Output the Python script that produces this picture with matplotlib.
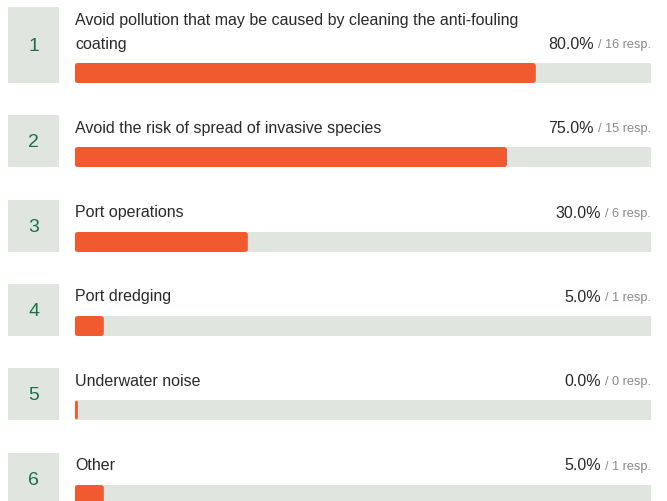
import matplotlib
matplotlib.use("Agg")
import matplotlib.pyplot as plt
from matplotlib.patches import FancyBboxPatch, Rectangle

labels = ["Avoid pollution that may be caused by cleaning the anti-fouling\ncoating",
          "Avoid the risk of spread of invasive species",
          "Port operations",
          "Port dredging",
          "Underwater noise",
          "Other"]
ranks = ["1", "2", "3", "4", "5", "6"]
responses = [16, 15, 6, 1, 0, 1]
total = 20
percents = [100.0 * r / total for r in responses]

plt.rcParams['font.family'] = ['Liberation Sans', 'DejaVu Sans']

W, H = 667, 501
fig = plt.figure(figsize=(W / 100, H / 100), dpi=100)
x0, x1 = 75, 651
ax = fig.add_axes([x0 / W, 0, (x1 - x0) / W, 1])
ax.set_xlim(0, 100)
ax.set_ylim(H, 0)
ax.axis('off')

def px2x(p):
    return (p - x0) / (x1 - x0) * 100

track_tops = [63, 147, 232, 316, 400, 485]
track_h = 20
orange = '#f05a2e'
track_c = '#e0e5df'
box_c = '#e0e5df'
green = '#1c7245'
txt_c = '#2a2a2a'
gap = 4 / (x1 - x0) * 100

for i, (lab, rk, n, pct) in enumerate(zip(labels, ranks, responses, percents)):
    tt = track_tops[i]
    nlines = lab.count("\n") + 1
    # track
    ax.add_patch(Rectangle((0, tt), 100, track_h, facecolor=track_c, edgecolor='none'))
    # bar
    w = max(pct, 0.5)
    ax.add_patch(FancyBboxPatch((0, tt), w, track_h,
                                boxstyle="round,pad=0,rounding_size=0.6",
                                mutation_aspect=track_h / 4.5,
                                facecolor=orange, edgecolor='none'))
    # rank box
    box_top = tt - 32 - 24 * (nlines - 1)
    bx0 = px2x(8)
    bx1 = px2x(59)
    ax.add_patch(Rectangle((bx0, box_top), bx1 - bx0, tt + track_h - box_top,
                           facecolor=box_c, edgecolor='none', clip_on=False))
    ax.text((bx0 + bx1) / 2, (box_top + tt + track_h) / 2 + 1.5, rk, ha='center', va='center',
            fontsize=14, color=green, clip_on=False)
    # label
    lines = lab.split("\n")
    for j, line in enumerate(lines):
        yc = tt - 19 - 24 * (nlines - 1 - j)
        ax.text(0, yc, line, ha='left', va='center', fontsize=11.5, color=txt_c)
    # percent
    yc = tt - 19
    t2 = ax.text(100, yc + 1, f"/ {n} resp.", ha='right', va='center', fontsize=9.2, color='#8a8a8a')
    fig.canvas.draw()
    bb = t2.get_window_extent()
    xr = ax.transData.inverted().transform((bb.x0, 0))[0]
    ax.text(xr - gap, yc, f"{pct:.1f}%", ha='right', va='center', fontsize=11.5, color=txt_c)

fig.savefig("out.png", dpi=100, facecolor='white')
